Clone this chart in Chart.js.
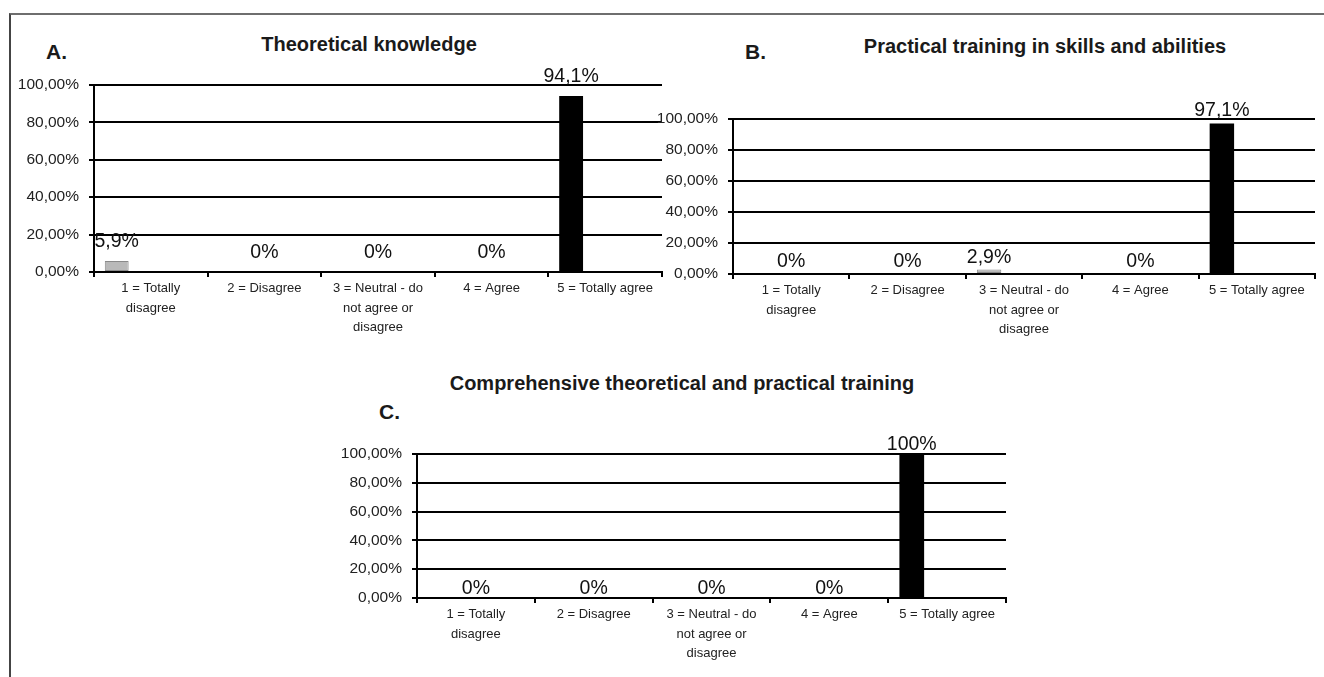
<!DOCTYPE html>
<html>
<head>
<meta charset="utf-8">
<script src="https://cdn.jsdelivr.net/npm/chart.js@4.4.1/dist/chart.umd.min.js"></script>
<style>
  html, body { margin: 0; padding: 0; background: #fff; }
  body { width: 1324px; height: 677px; position: relative; overflow: hidden; }
  .frame { position: absolute; left: 9px; top: 13px; width: 1400px; height: 700px;
           border-top: 2px solid #6e6e6e; border-left: 2px solid #444; }
  .box { position: absolute; }
  .title { position: absolute; transform: translate(-50%, -50%); white-space: nowrap;
           font: bold 20px "Liberation Sans", Arial, sans-serif; color: #1a1a1a; }
  .letter { position: absolute; transform: translateY(-50%); white-space: nowrap;
            font: bold 21px "Liberation Sans", Arial, sans-serif; color: #1a1a1a; }
</style>
</head>
<body>
<div class="frame"></div>

<div class="letter" style="left:46px; top:52px;">A.</div>
<div class="title" style="left:369px; top:44px;">Theoretical knowledge</div>
<div class="box" style="left:10px; top:50px; width:656px; height:297px;"><canvas id="chartA"></canvas></div>

<div class="letter" style="left:745px; top:52px;">B.</div>
<div class="title" style="left:1045px; top:46px;">Practical training in skills and abilities</div>
<div class="box" style="left:655px; top:84px; width:664px; height:265px;"><canvas id="chartB"></canvas></div>

<div class="letter" style="left:379px; top:412px;">C.</div>
<div class="title" style="left:682px; top:383px;">Comprehensive theoretical and practical training</div>
<div class="box" style="left:335px; top:419px; width:675px; height:254px;"><canvas id="chartC"></canvas></div>

<script>
// answer categories (multi-line tick labels)
const categories = [
  ['1 = Totally', 'disagree'],
  ['2 = Disagree'],
  ['3 = Neutral - do', 'not agree or', 'disagree'],
  ['4 = Agree'],
  ['5 = Totally agree']
];
// percent of answers
const theoretical = [5.9, 0, 0, 0, 94.1];
const practical = [0, 0, 2.9, 0, 97.1];
const comprehensive = [0, 0, 0, 0, 100];
// y axis ticks
const yTicks = [0, 20, 40, 60, 80, 100];

const FONT = '"Liberation Sans", Arial, sans-serif';
Chart.defaults.font.family = FONT;
Chart.defaults.color = '#222';

function pct(v) {
  if (v === 0) return '0%';
  if (v === 100) return '100%';
  return v.toFixed(1).replace('.', ',') + '%';
}

// value labels above the bars
const valueLabels = {
  id: 'valueLabels',
  afterDatasetsDraw(chart, args, opts) {
    const ctx = chart.ctx;
    const meta = chart.getDatasetMeta(0);
    const vals = chart.data.datasets[0].data;
    ctx.save();
    ctx.font = '19.5px ' + FONT;
    ctx.fillStyle = '#111';
    ctx.textAlign = 'center';
    ctx.textBaseline = 'alphabetic';
    meta.data.forEach((bar, i) => {
      const v = vals[i];
      const x = v > 0 ? bar.x : chart.scales.x.getPixelForValue(i);
      ctx.fillText(pct(v), x, bar.y - opts.gap);
    });
    ctx.restore();
  }
};

function makeChart(id, values, yWidth, gap) {
  const ctx = document.getElementById(id).getContext('2d');
  return new Chart(ctx, {
    type: 'bar',
    data: {
      labels: categories,
      datasets: [{
        data: values,
        backgroundColor: (c) => c.dataIndex === 4 ? '#000' : '#b9b9b9',
        borderColor: (c) => c.dataIndex === 4 ? '#000' : '#8a8a8a',
        borderWidth: (c) => (c.raw > 0 && c.dataIndex !== 4) ? 1 : 0,
        borderSkipped: false,
        categoryPercentage: 1.2,
        barPercentage: 0.35
      }, {
        // empty series, keeps the bars left of the category centre like the original
        data: values.map(() => null),
        categoryPercentage: 1.2,
        barPercentage: 0.35
      }]
    },
    options: {
      responsive: true,
      maintainAspectRatio: false,
      animation: false,
      layout: { padding: { top: 35, right: 4, left: 0, bottom: 0 } },
      plugins: {
        legend: { display: false },
        tooltip: { enabled: false },
        title: { display: false },
        valueLabels: { gap: gap }
      },
      scales: {
        x: {
          offset: true,
          grid: { drawOnChartArea: false, drawTicks: true, tickLength: 5, color: '#000', lineWidth: 2, offset: true },
          border: { color: '#000', width: 2 },
          ticks: { maxRotation: 0, autoSkip: false, padding: 2, color: '#222',
                   font: { size: 13, lineHeight: 1.5 } },
          afterFit(s) { s.height = 75; }
        },
        y: {
          min: yTicks[0],
          max: yTicks[yTicks.length - 1],
          afterBuildTicks(s) { s.ticks = yTicks.map(v => ({ value: v })); },
          grid: { color: '#000', lineWidth: 2, tickLength: 5 },
          border: { color: '#000', width: 2 },
          ticks: { padding: 10, color: '#222', font: { size: 15.5 },
                   callback: (v) => v.toFixed(2).replace('.', ',') + '%' },
          afterFit(s) { s.width = yWidth; }
        }
      }
    },
    plugins: [valueLabels]
  });
}

makeChart('chartA', theoretical, 84, 14);
makeChart('chartB', practical, 78, 7);
makeChart('chartC', comprehensive, 82, 4);
</script>
</body>
</html>
